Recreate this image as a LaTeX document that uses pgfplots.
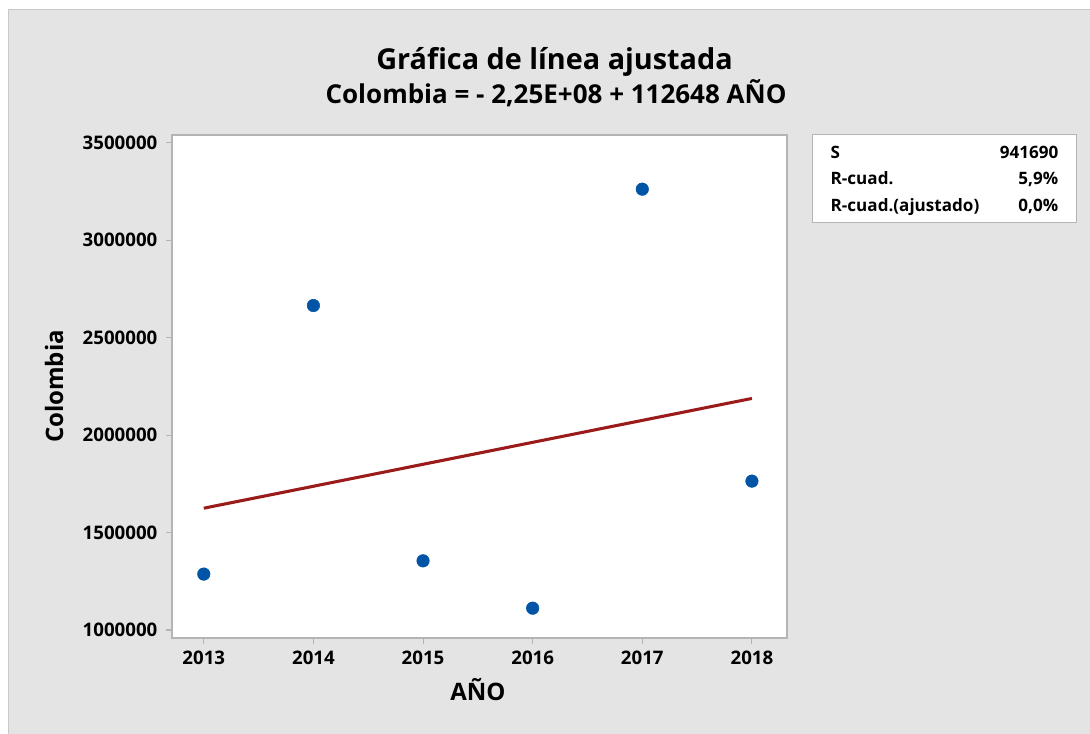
\documentclass[border=0pt]{standalone}
\usepackage{fontspec}
\setmainfont{Open Sans}
\usepackage{pgfplots}
\pgfplotsset{compat=1.18}

\definecolor{bggray}{HTML}{E4E4E4}
\definecolor{framegray}{HTML}{C8C8C8}
\definecolor{axgray}{HTML}{B4B4B4}
\definecolor{ptblue}{HTML}{0255A6}
\definecolor{fitred}{HTML}{9B1B1B}

\begin{document}
\begin{tikzpicture}[x=0.75pt,y=0.75pt]
  % background, pixel grid 1090x733 with y upward
  \useasboundingbox (0,0) rectangle (1090,733);
  \fill[white] (0,0) rectangle (1090,733);
  \filldraw[fill=bggray, draw=framegray, line width=0.75pt] (8,-2) rectangle (1093,723);

  \begin{axis}[at={(129pt,71.25pt)}, anchor=south west, scale only axis,
    width=461.25pt, height=377.25pt,
    xmin=2012.71, xmax=2018.32, ymin=959000, ymax=3540000,
    axis background/.style={fill=white},
    axis line style={draw=axgray, line width=1.1pt},
    tick style={draw=axgray, line width=0.8pt},
    tick align=outside, major tick length=4.5pt,
    xtick pos=left, ytick pos=left,
    xtick={2013,2014,2015,2016,2017,2018},
    ytick={1000000,1500000,2000000,2500000,3000000,3500000},
    scaled y ticks=false,
    /pgf/number format/assume math mode=true,
    /pgf/number format/1000 sep={},
    /pgf/number format/fixed,
    tick label style={font=\fontsize{14}{16}\selectfont\bfseries},
    xticklabel style={yshift=-2pt},
    yticklabel style={xshift=-3pt},
    clip=false]
    % fitted line: Colombia = -2.25E+08 + 112648 AÑO
    \addplot[fitred, line width=2.3pt] coordinates {(2013,1625000) (2018,2188240)};
    \addplot[only marks, mark=*, mark size=4.7pt, color=ptblue] coordinates {
      (2013,1287000) (2014,2665000) (2015,1355000)
      (2016,1112000) (2017,3262000) (2018,1764000)};
  \end{axis}

  % titles
  \node[anchor=base, font=\fontsize{21.6}{25}\selectfont\bfseries] at (554.5,663) {Gráfica de línea ajustada};
  \node[anchor=base, font=\fontsize{19.5}{23}\selectfont\bfseries] at (556,629) {Colombia = - 2,25E+08 + 112648 AÑO};

  % axis labels
  \node[anchor=base, font=\fontsize{18}{21}\selectfont\bfseries] at (478,33) {AÑO};
  \node[anchor=base, rotate=90, font=\fontsize{18}{21}\selectfont\bfseries] at (63,386.5-40) {Colombia};

  % statistics box
  \filldraw[fill=white, draw=axgray, line width=0.75pt] (812,510) rectangle (1076,598);
  \begin{scope}[every node/.style={font=\fontsize{12.8}{15}\selectfont\bfseries}]
    \node[anchor=base west] at (826,574) {S};
    \node[anchor=base east] at (1063,574) {941690};
    \node[anchor=base west] at (826,548) {R-cuad.};
    \node[anchor=base east] at (1063,548) {5,9\%};
    \node[anchor=base west] at (826,521.5) {R-cuad.(ajustado)};
    \node[anchor=base east] at (1063,521.5) {0,0\%};
  \end{scope}
\end{tikzpicture}
\end{document}
